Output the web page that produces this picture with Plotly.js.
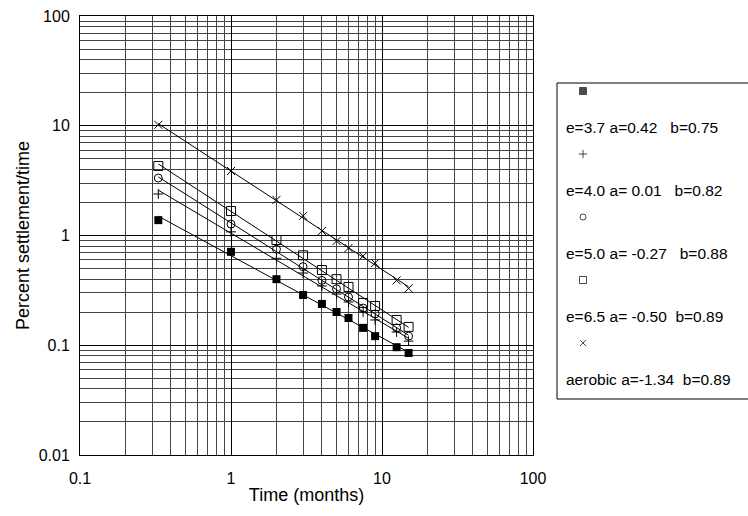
<!DOCTYPE html>
<html><head><meta charset="utf-8">
<script src="https://cdn.plot.ly/plotly-3.0.1.min.js"></script>
<style>html,body{margin:0;padding:0;background:#fff}#chart{width:748px;height:516px}</style>
</head><body><div id="chart"></div><script>
// ---- data ----
const time = [0.33, 1, 2, 3, 4, 5, 6, 7.5, 9, 12.5, 15];
const seriesFilledSquare = [1.38, 0.71, 0.40, 0.287, 0.238, 0.201, 0.177, 0.144, 0.121, 0.096, 0.085];
const seriesPlus = [2.39, 1.08, 0.62, 0.455, 0.347, 0.293, 0.248, 0.201, 0.170, 0.132, 0.109];
const seriesCircle = [3.34, 1.27, 0.75, 0.52, 0.39, 0.326, 0.275, 0.218, 0.193, 0.144, 0.121];
const seriesOpenSquare = [4.30, 1.67, 0.91, 0.66, 0.485, 0.40, 0.34, 0.243, 0.228, 0.170, 0.147];
const seriesCross = [10.2, 3.87, 2.11, 1.51, 1.10, 0.89, 0.77, 0.65, 0.56, 0.39, 0.33];
const legendLabels = [
  "e=3.7 a=0.42\u00a0\u00a0 b=0.75",
  "e=4.0 a= 0.01\u00a0\u00a0 b=0.82",
  "e=5.0 a= -0.27\u00a0\u00a0 b=0.88",
  "e=6.5 a= -0.50\u00a0 b=0.89",
  "aerobic a=-1.34\u00a0 b=0.89"
];
const xTicks = [0.1, 1, 10, 100];
const yTicks = [0.01, 0.1, 1, 10, 100];
const xTitle = "Time (months)";
const yTitle = "Percent settlement/time";

// ---- styles ----
const W = 748, H = 516;
const plotL = 80, plotR = 533, plotT = 16, plotB = 455;
const FONT = "Liberation Sans, Arial, sans-serif";
const allSeries = [seriesFilledSquare, seriesPlus, seriesCircle, seriesOpenSquare, seriesCross];
const markerStyles = [
  {symbol: "square", size: 8, color: "#000"},
  {symbol: "cross-thin-open", size: 7, color: "#000", line: {width: 1, color: "#000"}},
  {symbol: "circle-open", size: 8, color: "#000", line: {width: 1, color: "#000"}},
  {symbol: "square-open", size: 9, color: "#000", line: {width: 1, color: "#000"}},
  {symbol: "x-thin-open", size: 8, color: "#000", line: {width: 1, color: "#000"}}
];
const legendMarkerSize = [7, 6, 6, 7, 6];

// least-squares power-law fit (log-log) for trend lines
function fit(xs, ys) {
  const lx = xs.map(Math.log10), ly = ys.map(Math.log10);
  const n = lx.length;
  const mx = lx.reduce((a, b) => a + b) / n, my = ly.reduce((a, b) => a + b) / n;
  let sxy = 0, sxx = 0;
  for (let i = 0; i < n; i++) { sxy += (lx[i] - mx) * (ly[i] - my); sxx += (lx[i] - mx) ** 2; }
  const m = sxy / sxx, c = my - m * mx;
  const x0 = xs[0], x1 = xs[n - 1];
  return {x: [x0, x1], y: [Math.pow(10, c + m * Math.log10(x0)), Math.pow(10, c + m * Math.log10(x1))]};
}

const traces = [];
allSeries.forEach((ys, i) => {
  const f = fit(time, ys);
  traces.push({x: f.x, y: f.y, mode: "lines", line: {color: "#000", width: 1}, hoverinfo: "skip", showlegend: false});
  traces.push({x: time, y: ys, mode: "markers", marker: markerStyles[i], showlegend: false});
});

// legend markers drawn on a pixel-space helper axis
const legX = 583, legY0 = 91, legStep = 63;
const leftFrac = 0.74;
traces.push({
  x: allSeries.map(() => legX),
  y: allSeries.map((_, i) => legY0 + i * legStep),
  xaxis: "x2", yaxis: "y2", mode: "markers", showlegend: false, hoverinfo: "skip",
  marker: {
    symbol: markerStyles.map(m => m.symbol),
    size: legendMarkerSize,
    color: "#000",
    line: {width: 1, color: "#000"}
  }
});

const annotations = legendLabels.map((t, i) => ({
  text: t, xref: "paper", yref: "paper", x: 564 / W, y: 1 - (127 + i * 63) / H,
  xanchor: "left", yanchor: "middle", showarrow: false,
  font: {family: FONT, size: 15.5, color: "#000"}
}));

const axisCommon = {
  type: "log", showline: true, mirror: true, linecolor: "#000", linewidth: 1,
  showgrid: true, gridcolor: "#000", gridwidth: 1, zeroline: false, ticks: "",
  tickfont: {family: FONT, size: 16, color: "#000"},
  minor: {dtick: "D1", showgrid: true, gridcolor: "#444", gridwidth: 1, ticks: ""}
};

const boxL = 557 / W, boxT = 1 - 83 / H, boxB = 1 - 399 / H;
const boxLine = {color: "#000", width: 1};
const layout = {
  width: W, height: H, margin: {l: 0, r: 0, t: 0, b: 0},
  paper_bgcolor: "#fff", plot_bgcolor: "rgba(0,0,0,0)", showlegend: false,
  font: {family: FONT, size: 16, color: "#000"},
  xaxis: Object.assign({}, axisCommon, {
    domain: [plotL / W, plotR / W], range: [-1, 2],
    tickvals: xTicks, ticktext: xTicks.map(String), ticklabelstandoff: 9,
    title: {text: xTitle, font: {family: FONT, size: 18, color: "#000"}, standoff: 2}
  }),
  yaxis: Object.assign({}, axisCommon, {
    domain: [1 - plotB / H, 1 - plotT / H], range: [-2, 2],
    tickvals: yTicks, ticktext: yTicks.map(String), ticklabelstandoff: 6,
    title: {text: yTitle, font: {family: FONT, size: 18, color: "#000"}, standoff: 4}
  }),
  xaxis2: {domain: [leftFrac, 1], range: [leftFrac * W, W], visible: false, anchor: "y2", fixedrange: true},
  yaxis2: {domain: [0, 1], range: [H, 0], visible: false, anchor: "x2", fixedrange: true},
  shapes: [
    {type: "line", xref: "paper", yref: "paper", x0: boxL, x1: boxL, y0: boxB, y1: boxT, line: boxLine},
    {type: "line", xref: "paper", yref: "paper", x0: boxL, x1: 1, y0: boxT, y1: boxT, line: boxLine},
    {type: "line", xref: "paper", yref: "paper", x0: boxL, x1: 1, y0: boxB, y1: boxB, line: boxLine}
  ],
  annotations: annotations
};

Plotly.newPlot("chart", traces, layout, {displayModeBar: false, staticPlot: true});
</script></body></html>
